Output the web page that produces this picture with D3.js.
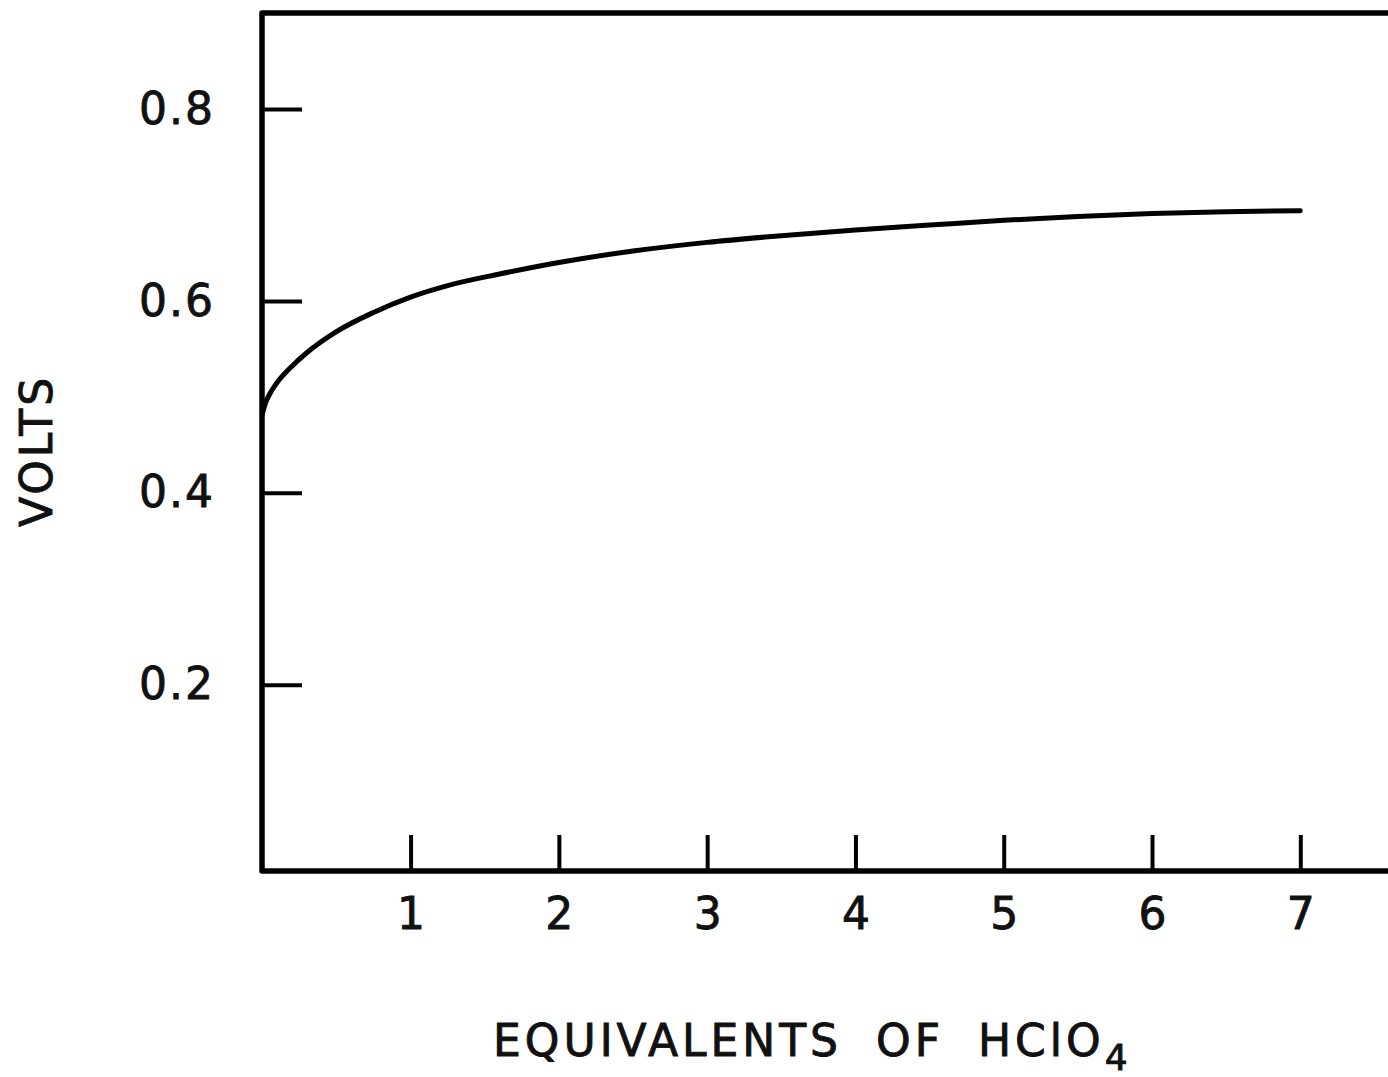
<!DOCTYPE html>
<html>
<head>
<meta charset="utf-8">
<script src="https://cdn.jsdelivr.net/npm/d3@7"></script>
<style>
  html, body { margin: 0; padding: 0; background: #fff; }
  svg { display: block; }
  text { font-family: "DejaVu Sans", sans-serif; fill: #111; stroke: #111; stroke-width: 0.9px; }
</style>
</head>
<body>
<div id="chart"></div>
<script>
// Potential (volts) versus equivalents of perchloric acid added
const equivalents = [0, 0.02, 0.05, 0.1, 0.2, 0.3, 0.5, 0.75, 1.0, 1.25, 1.6, 2.0, 2.5, 3.0, 3.5, 4.0, 4.5, 5.0, 5.5, 6.0, 6.5, 7.0];
const volts       = [0.482, 0.493, 0.503, 0.515, 0.532, 0.546, 0.568, 0.588, 0.604, 0.616, 0.628, 0.640, 0.652, 0.661, 0.668, 0.674, 0.679, 0.684, 0.688, 0.691, 0.693, 0.694];

const xTicks = [1, 2, 3, 4, 5, 6, 7];
const xTickLabels = ["1", "2", "3", "4", "5", "6", "7"];
const yTicks = [0.2, 0.4, 0.6, 0.8];
const yTickLabels = ["0.2", "0.4", "0.6", "0.8"];

const W = 1388, H = 1077;
const plotLeft = 262, plotTop = 13, plotBottom = 871, plotRight = 1410;

const svg = d3.select("#chart").append("svg")
  .attr("width", W).attr("height", H);

const x = d3.scaleLinear().domain([0, 7]).range([262.3, 1300.3]);
const y = d3.scaleLinear().domain([0.006, 0.9]).range([plotBottom, plotTop]);

// Frame: left, top, bottom (right side runs past the page edge)
svg.append("path")
  .attr("d", `M${plotRight},${plotTop}H${plotLeft}V${plotBottom}H${plotRight}`)
  .attr("fill", "none").attr("stroke", "#000")
  .attr("stroke-width", 5.5).attr("stroke-linejoin", "round");

// Y axis: ticks pointing inward, labels outside
const yAxis = d3.axisLeft(y)
  .tickValues(yTicks)
  .tickFormat((d, i) => yTickLabels[i])
  .tickSizeInner(-40).tickSizeOuter(0).tickPadding(47);
const gy = svg.append("g").attr("transform", `translate(${plotLeft},0)`).call(yAxis);
gy.select(".domain").remove();
gy.selectAll(".tick line").attr("stroke", "#000").attr("stroke-width", 4);
gy.selectAll(".tick text")
  .style("font-size", "44px").style("letter-spacing", "2px")
  .attr("font-family", null).attr("font-size", null);

// X axis: ticks pointing inward, labels below
const xAxis = d3.axisBottom(x)
  .tickValues(xTicks)
  .tickFormat((d, i) => xTickLabels[i])
  .tickSizeInner(-36).tickSizeOuter(0).tickPadding(27);
const gx = svg.append("g").attr("transform", `translate(0,${plotBottom})`).call(xAxis);
gx.select(".domain").remove();
gx.selectAll(".tick line").attr("stroke", "#000").attr("stroke-width", 4);
gx.selectAll(".tick text")
  .style("font-size", "44px")
  .attr("font-family", null).attr("font-size", null);

// Titration curve
const line = d3.line()
  .x((d, i) => x(equivalents[i]))
  .y(d => y(d))
  .curve(d3.curveMonotoneX);
svg.append("path")
  .datum(volts)
  .attr("d", line)
  .attr("fill", "none").attr("stroke", "#000")
  .attr("stroke-width", 5).attr("stroke-linecap", "round");

// Axis titles
const xt = svg.append("text")
  .attr("x", 493).attr("y", 1056)
  .style("font-size", "44px").style("letter-spacing", "4px").style("word-spacing", "16px");
xt.append("tspan").text("EQUIVALENTS OF HClO");
xt.append("tspan").attr("dy", 14).style("font-size", "36px").text("4");

svg.append("text")
  .attr("transform", "translate(52,451) rotate(-90)")
  .attr("text-anchor", "middle")
  .style("font-size", "44px").style("letter-spacing", "3px")
  .text("VOLTS");
</script>
</body>
</html>
